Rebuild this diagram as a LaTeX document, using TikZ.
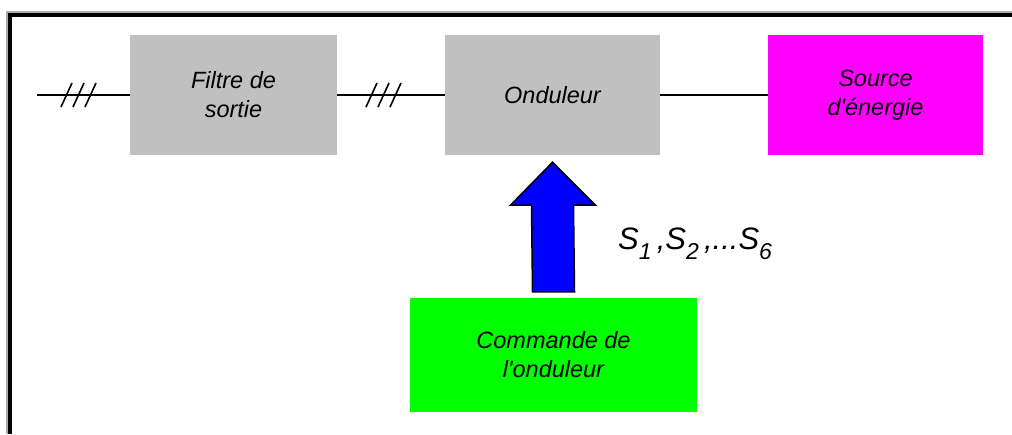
\documentclass[tikz,border=0pt]{standalone}
\usepackage{fontspec}
\setmainfont{Liberation Sans}[Ligatures=TeXOff]
\usetikzlibrary{calc}
\tikzset{
  blockbox/.style={draw=none, minimum width=#1, minimum height=120pt, inner sep=0pt,
    align=center, font=\fontsize{23.5}{29}\selectfont\itshape},
  wire/.style={line width=1.5pt, black},
  tickmark/.style={line width=1.6pt, black},
}
\begin{document}
\begin{tikzpicture}[x=1pt, y=-1pt]
  \useasboundingbox (0,0) rectangle (1012,434);
  % window frame
  \draw[gray!65, line width=2pt] (7,434) -- (7,12) -- (1012,12);
  \draw[black, line width=4pt] (10,434) -- (10,15) -- (1012,15);

  % blocks
  \node[blockbox=207pt, fill={rgb,255:red,192;green,192;blue,192}] (filtre) at (233.5,95) {Filtre de\\sortie};
  \node[blockbox=215pt, fill={rgb,255:red,192;green,192;blue,192}] (ond) at (552.5,95) {Onduleur};
  \node[blockbox=215pt, fill={rgb,255:red,255;green,0;blue,255}] (src) at (875.5,95) {Source\\d'énergie};
  \node[blockbox=287pt, minimum height=114pt, fill={rgb,255:red,0;green,255;blue,0}] (cmd) at (553.5,355) {Commande de\\l'onduleur};

  % three-phase wiring
  \coordinate (in) at (37,95);
  \draw[wire] (in) -- (filtre.west);
  \draw[wire] (filtre.east) -- (ond.west);
  \draw[wire] (ond.east) -- (src.west);
  \foreach \x in {61,73,85} \draw[tickmark] (\x,107) -- (\x+11,83);
  \foreach \x in {366,378,390} \draw[tickmark] (\x,107) -- (\x+11,83);

  % control arrow
  \coordinate (tip) at ($(ond.south)+(0,7)$);
  \coordinate (foot) at ($(cmd.north)+(0,-6)$);
  \draw[line width=1.5pt, fill={rgb,255:red,0;green,0;blue,255}, line join=miter]
    (tip) -- ($(tip)+(43,43)$) -- ($(tip)+(21,43)$) -- ($(foot)+(21,0)$)
    -- ($(foot)+(-21,0)$) -- ($(tip)+(-21,43)$) -- ($(tip)+(-42,43)$) -- cycle;

  % switching signals
  \node[anchor=base west, inner sep=0pt, font=\fontsize{31}{36}\selectfont\itshape] (sig) at (618,249)
    {S\raisebox{-10pt}{\fontsize{23}{26}\selectfont 1}\,,S\raisebox{-10pt}{\fontsize{23}{26}\selectfont 2}\,,...S\raisebox{-10pt}{\fontsize{23}{26}\selectfont 6}};
\end{tikzpicture}
\end{document}
